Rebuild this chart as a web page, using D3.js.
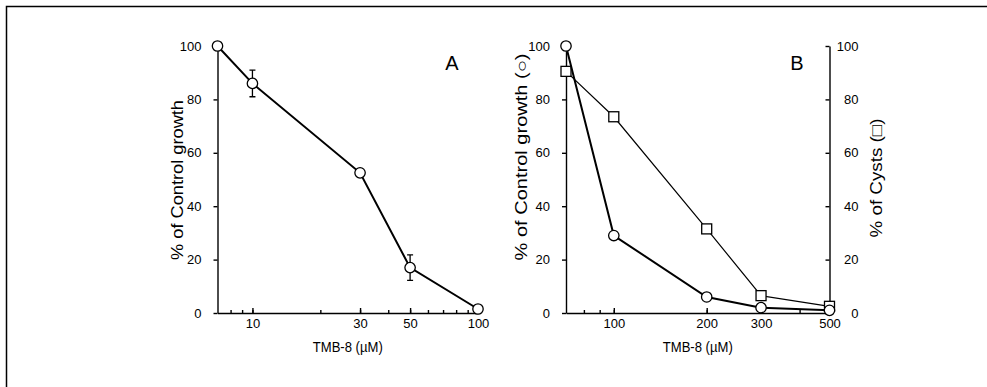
<!DOCTYPE html>
<html>
<head>
<meta charset="utf-8">
<script src="https://cdn.jsdelivr.net/npm/d3@7"></script>
<style>
  body { margin: 0; background: #fff; }
  svg { display: block; font-family: "Liberation Sans", Arial, sans-serif; }
</style>
</head>
<body>
<div id="chart"></div>
<script>
// panel A: growth vs TMB-8 (log x)
const doseA = [7, 10, 30, 50, 100];
const growthA = [100, 86, 52.5, 17, 1.5];
const errA = [0, 5, 1.5, 4.8, 0];
const ticksA = [10, 30, 50, 100];
const minorA = [8, 9, 10, 20, 30, 40, 50, 60, 70, 80, 90, 100];

// panel B: growth (circles) and cysts (squares)
const doseB = [70, 100, 200, 300, 500];
const growthB = [100, 29, 6, 2, 1];
const cystsB = [90.5, 73.5, 31.5, 6.5, 2.5];
const ticksB = [100, 200, 300, 500];
const minorB = [80, 90, 100, 200, 300, 400, 500];

const yTicks = [0, 20, 40, 60, 80, 100];

const width = 987, height = 387;
const svg = d3.select('#chart').append('svg')
  .attr('width', width)
  .attr('height', height);

// scanned frame (only top and left edges are visible)
svg.append('path')
  .attr('d', 'M6.5,' + height + 'V6.5H' + width)
  .attr('fill', 'none')
  .attr('stroke', '#000')
  .attr('stroke-width', 1.5);

const yScale = d3.scaleLinear().domain([0, 100]).range([313, 46]);

function styleAxis(g) {
  g.selectAll('path, line').attr('stroke', '#000').attr('stroke-width', 1.4);
  g.selectAll('text').attr('fill', '#000').style('font-size', '13px');
}

function title(g, tx, ty, rot, txt, len) {
  g.append('text')
    .attr('transform', 'translate(' + tx + ',' + ty + ')' + (rot ? ' rotate(-90)' : ''))
    .attr('text-anchor', 'middle')
    .attr('textLength', len)
    .attr('lengthAdjust', 'spacingAndGlyphs')
    .style('font-size', rot ? '16px' : '14px')
    .text(txt);
}

function drawPanel(opts) {
  const x = d3.scaleLog().domain(opts.domain).range(opts.range);
  const g = svg.append('g');

  // x axis: minor ticks inward, labels below
  g.append('g')
    .attr('transform', 'translate(0,313)')
    .call(d3.axisBottom(x).tickValues(opts.minor).tickSize(-3).tickSizeOuter(0).tickFormat(''))
    .call(styleAxis);
  g.append('g')
    .attr('transform', 'translate(0,313)')
    .call(d3.axisBottom(x).tickValues(opts.ticks).tickSize(-5).tickPadding(6).tickSizeOuter(0).tickFormat(d3.format('d')))
    .call(styleAxis)
    .call(a => a.select('.domain').remove());

  // left y axis
  g.append('g')
    .attr('transform', 'translate(' + opts.range[0] + ',0)')
    .call(d3.axisLeft(yScale).tickValues(yTicks).tickSize(4).tickPadding(12).tickSizeOuter(0))
    .call(styleAxis);

  title(g, opts.yTitleX, opts.yTitleY, true, opts.yTitle, opts.yTitleLen);
  title(g, (opts.range[0] + opts.range[1]) / 2, 352, false, 'TMB-8 (\u00b5M)', 70);

  g.append('text')
    .attr('x', opts.letterX)
    .attr('y', 70)
    .attr('text-anchor', 'middle')
    .style('font-size', '20px')
    .text(opts.letter);

  return { g: g, x: x };
}

function drawSeries(g, x, xs, ys, shape, lw) {
  const pts = xs.map((d, i) => [d, ys[i]]);
  g.append('path')
    .datum(pts)
    .attr('fill', 'none')
    .attr('stroke', '#000')
    .attr('stroke-width', lw)
    .attr('d', d3.line().x(d => x(d[0])).y(d => yScale(d[1])));

  if (shape === 'circle') {
    g.selectAll(null)
      .data(pts)
      .enter()
      .append('circle')
      .attr('cx', d => x(d[0]))
      .attr('cy', d => yScale(d[1]))
      .attr('r', 5.2)
      .attr('fill', '#fff')
      .attr('stroke', '#000')
      .attr('stroke-width', 1.3);
  } else {
    g.selectAll(null)
      .data(pts)
      .enter()
      .append('rect')
      .attr('x', d => x(d[0]) - 5)
      .attr('y', d => yScale(d[1]) - 5)
      .attr('width', 10)
      .attr('height', 10)
      .attr('fill', '#fff')
      .attr('stroke', '#000')
      .attr('stroke-width', 1.3);
  }
}

// ---- panel A
const A = drawPanel({
  domain: [7, 100], range: [217.5, 478],
  ticks: ticksA, minor: minorA,
  yTitle: '% of Control growth', yTitleX: 183, yTitleY: 180, yTitleLen: 160,
  letter: 'A', letterX: 452
});

// error bars
const errG = A.g.append('g');
doseA.forEach((d, i) => {
  if (!errA[i]) return;
  const cx = A.x(d);
  const y1 = yScale(growthA[i] + errA[i]);
  const y2 = yScale(growthA[i] - errA[i]);
  errG.append('path')
    .attr('d', 'M' + (cx - 3) + ',' + y1 + 'H' + (cx + 3) + 'M' + cx + ',' + y1 + 'V' + y2 + 'M' + (cx - 3) + ',' + y2 + 'H' + (cx + 3))
    .attr('fill', 'none')
    .attr('stroke', '#000')
    .attr('stroke-width', 1.3);
});
drawSeries(A.g, A.x, doseA, growthA, 'circle', 2);

// ---- panel B
const B = drawPanel({
  domain: [70, 500], range: [566, 829.5],
  ticks: ticksB, minor: minorB,
  yTitle: '% of Control growth (\u25cb)', yTitleX: 527, yTitleY: 157, yTitleLen: 207,
  letter: 'B', letterX: 797
});

// right axis: labels right-aligned like the scan
B.g.append('g')
  .attr('transform', 'translate(829.5,0)')
  .call(d3.axisRight(yScale).tickValues(yTicks).tickSize(-4).tickSizeOuter(0))
  .call(styleAxis)
  .call(a => a.selectAll('text').attr('x', 29).attr('text-anchor', 'end'));

title(B.g, 882, 178, true, '% of Cysts (\u25a1)', 119);

drawSeries(B.g, B.x, doseB, cystsB, 'square', 1.2);
drawSeries(B.g, B.x, doseB, growthB, 'circle', 2);
</script>
</body>
</html>
